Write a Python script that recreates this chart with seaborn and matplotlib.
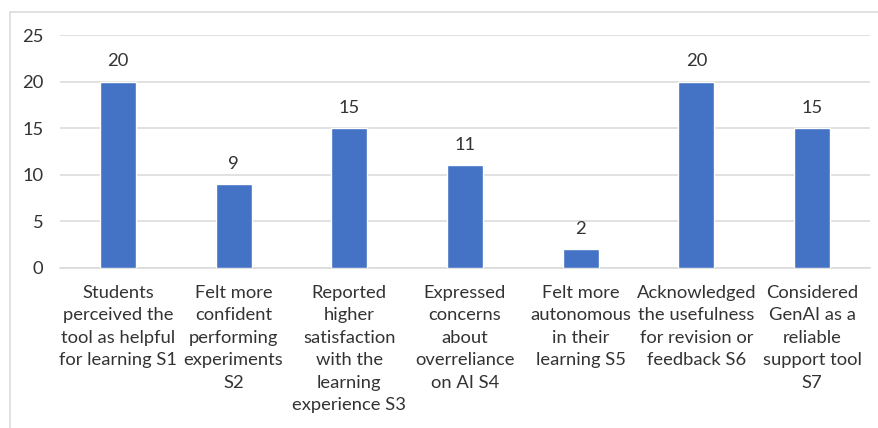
import matplotlib
matplotlib.use("Agg")
import matplotlib.pyplot as plt
from matplotlib.lines import Line2D
import seaborn as sns
import pandas as pd

categories = [
    "Students\nperceived the\ntool as helpful\nfor learning S1",
    "Felt more\nconfident\nperforming\nexperiments\nS2",
    "Reported\nhigher\nsatisfaction\nwith the\nlearning\nexperience S3",
    "Expressed\nconcerns\nabout\noverreliance\non AI S4",
    "Felt more\nautonomous\nin their\nlearning S5",
    "Acknowledged\nthe usefulness\nfor revision or\nfeedback S6",
    "Considered\nGenAI as a\nreliable\nsupport tool\nS7",
]
counts = [20, 9, 15, 11, 2, 20, 15]
y_ticks = [0, 5, 10, 15, 20, 25]

sns.set_theme(style="white")
plt.rcParams["font.family"] = ["Lato", "DejaVu Sans"]

text_color = "#333333"
grid_color = "#d9d9d9"
bar_color = "#4472C4"
fs = 13.2

df = pd.DataFrame({"item": categories, "count": counts})

fig = plt.figure(figsize=(8.79, 4.28), dpi=100)
ax = fig.add_axes([60 / 879, 1 - 268 / 428, 810 / 879, 233 / 428])

sns.barplot(data=df, x="item", y="count", color=bar_color, saturation=1,
            width=0.31, ax=ax, zorder=3)

ax.set_ylim(0, 25)
ax.set_yticks(y_ticks)
ax.set_xlim(-0.5, len(categories) - 0.5)
ax.set_xlabel("")
ax.set_ylabel("")
ax.yaxis.grid(True, color=grid_color, linewidth=1.1, zorder=0)
ax.set_axisbelow(True)
for side in ["left", "right", "top"]:
    ax.spines[side].set_visible(False)
ax.spines["bottom"].set_color(grid_color)
ax.spines["bottom"].set_linewidth(1.1)

ax.tick_params(axis="y", length=0, pad=12, labelsize=fs, labelcolor=text_color)
ax.tick_params(axis="x", length=0, pad=12, labelsize=fs, labelcolor=text_color)
for lbl in ax.get_xticklabels():
    lbl.set_linespacing(1.5)
    lbl.set_horizontalalignment("center")

for i, v in enumerate(counts):
    ax.annotate(str(v), xy=(i, v), xytext=(0, 14.5), textcoords="offset points",
                ha="center", va="center", fontsize=fs, color=text_color)

# light chart-area border along the top and left
fig.add_artist(Line2D([10 / 879, 1.0], [1 - 12 / 428, 1 - 12 / 428],
                      color=grid_color, linewidth=1.1, transform=fig.transFigure))
fig.add_artist(Line2D([10 / 879, 10 / 879], [0.0, 1 - 12 / 428],
                      color=grid_color, linewidth=1.1, transform=fig.transFigure))

fig.savefig("out.png", dpi=100, facecolor="white")
